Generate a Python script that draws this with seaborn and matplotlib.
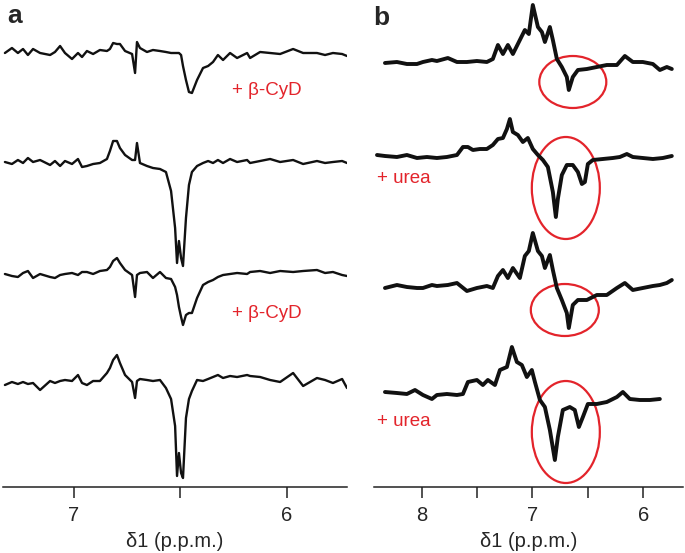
import numpy as np
import pandas as pd
import matplotlib
matplotlib.use("Agg")
import matplotlib.pyplot as plt
from matplotlib.patches import Ellipse
import seaborn as sns

sns.set_theme(style="white")
plt.rcParams["font.family"] = ["Liberation Sans", "DejaVu Sans"]

# --- panel a : chemical shift grid (p.p.m.) shared by the four traces ---
ppm_a = [7.324, 7.291, 7.263, 7.239, 7.216, 7.192, 7.159, 7.112, 7.089, 7.065,
         7.042, 7.009, 6.981, 6.962, 6.939, 6.910, 6.878, 6.845, 6.831, 6.816,
         6.798, 6.784, 6.760, 6.727, 6.713, 6.704, 6.690, 6.657, 6.629, 6.596,
         6.568, 6.544, 6.525, 6.516, 6.507, 6.497, 6.488, 6.474, 6.460, 6.446,
         6.422, 6.394, 6.370, 6.347, 6.324, 6.300, 6.267, 6.234, 6.187, 6.173,
         6.126, 6.079, 6.032, 5.971, 5.924, 5.859, 5.821, 5.784, 5.741, 5.718]

a1_cyd = [-1, 4, -1, 3, -3, 3, -1, -3, 0, 6,
          -1, -7, -1, -5, 1, -2, 2, 1, 3, 9,
          8, 8, 1, -2, -21, 10, 4, 0, 2, 1,
          0, -1, -1, -1, -1, -3, -14, -28, -40, -41,
          -28, -16, -14, -10, -3, -8, -1, -6, -1, -6,
          0, -1, -2, 3, -1, -1, -3, -1, -2, -4]
a2_ref = [1, -1, 3, 0, 5, 1, 3, -2, 2, -3,
          2, -1, 4, -4, -3, -1, 0, 4, 12, 22,
          22, 15, 8, 3, 3, 20, 0, -3, -5, -6,
          -9, -28, -65, -100, -78, -95, -103, -55, -22, -9,
          -3, 0, 2, 0, 3, 0, 4, 1, 3, 0,
          2, 4, 1, 3, -1, 2, 0, 1, 2, 0]
a3_cyd = [1, -1, -2, 2, 4, -3, 1, -2, -3, 0,
          1, 2, 0, 3, 3, 1, 4, 5, 8, 14,
          17, 12, 5, 0, -22, 0, 2, 3, -3, 3,
          -3, -4, -12, -20, -32, -42, -50, -40, -38, -38,
          -23, -10, -7, -5, -2, 0, 1, 2, 1, 3,
          4, 2, 4, 3, 4, 5, 2, 3, 0, -1]
a4_ref = [-2, 1, -1, 1, -1, 0, -7, 2, 0, 2,
          3, 2, 8, 0, -2, 2, 2, 10, 15, 23,
          28, 20, 8, 1, -15, 2, 4, 3, 2, 3,
          -5, -16, -43, -93, -70, -90, -95, -35, -16, -8,
          3, 2, 4, 6, 8, 5, 7, 6, 8, 7,
          6, 3, 1, 10, -3, 5, 3, 0, 4, -5]

# --- panel b ---
ppm_b13 = [8.331, 8.223, 8.133, 8.042, 7.988, 7.907, 7.862, 7.763, 7.681, 7.591,
           7.501, 7.411, 7.357, 7.311, 7.266, 7.221, 7.176, 7.113, 7.068, 7.032,
           6.996, 6.950, 6.914, 6.887, 6.842, 6.815, 6.779, 6.734, 6.689, 6.671,
           6.635, 6.589, 6.508, 6.418, 6.328, 6.237, 6.165, 6.093, 6.003, 5.912,
           5.849, 5.786, 5.741]
b1 = [0, 1, -1, -1, 1, 3, 2, 5, 1, 1,
      2, 1, 4, 18, 9, 18, 9, 23, 33, 29,
      58, 36, 31, 21, 36, 23, 4, -4, -14, -27,
      -14, -7, -6, -4, -2, -2, 7, 1, 1, -1,
      -7, -4, -6]
b3 = [0, 3, 1, 0, 0, 3, 2, 3, 5, -3,
      0, 2, 0, 12, 18, 10, 20, 10, 32, 37,
      55, 37, 32, 20, 33, 18, 0, -12, -25, -40,
      -17, -12, -12, -7, -7, 0, 5, -2, 0, 2,
      3, 5, 8]

ppm_b2 = [8.403, 8.331, 8.223, 8.133, 8.042, 7.952, 7.862, 7.772, 7.681, 7.627,
          7.582, 7.537, 7.474, 7.411, 7.357, 7.311, 7.266, 7.230, 7.203, 7.176,
          7.131, 7.086, 7.041, 6.996, 6.950, 6.905, 6.860, 6.815, 6.788, 6.770,
          6.734, 6.689, 6.635, 6.589, 6.553, 6.526, 6.499, 6.454, 6.364, 6.274,
          6.210, 6.147, 6.093, 6.003, 5.912, 5.822, 5.741]
b2_urea = [2, 1, 0, 2, -1, 0, -1, 0, 2, 10,
           10, 7, 8, 8, 12, 18, 19, 28, 38, 25,
           22, 15, 19, 8, 2, -3, -10, -35, -60, -42,
           -18, -8, -8, -15, -27, -25, -7, -3, -2, -1,
           0, 3, 0, -1, -2, -1, 1]

ppm_b4 = [8.331, 8.223, 8.133, 8.060, 7.988, 7.907, 7.862, 7.772, 7.681, 7.627,
          7.582, 7.501, 7.447, 7.402, 7.338, 7.293, 7.230, 7.185, 7.140, 7.095,
          7.050, 7.005, 6.977, 6.932, 6.887, 6.842, 6.797, 6.770, 6.725, 6.662,
          6.617, 6.580, 6.544, 6.499, 6.418, 6.328, 6.237, 6.183, 6.120, 6.030,
          5.940, 5.849]
b4_urea = [0, -1, -2, 2, -3, -7, -3, -2, -3, -2,
           10, 12, 7, 12, 7, 22, 25, 45, 30, 27,
           15, 22, 10, -8, -15, -38, -68, -45, -18, -15,
           -18, -35, -25, -12, -12, -10, -5, 0, -7, -8,
           -8, -7]

# stacking of the traces (baseline drop from the top, same units)
offsets_a = [52, 163, 275, 383]
offsets_b = [63, 157, 288, 392]

fig = plt.figure(figsize=(6.85, 5.53), dpi=100)
W, H = 685, 553
ax_a = fig.add_axes([3 / W, 66 / H, 344 / W, 487 / H])
ax_b = fig.add_axes([374 / W, 66 / H, 309 / W, 487 / H])

red = "#e3242b"

traces_a = [a1_cyd, a2_ref, a3_cyd, a4_ref]
for vals, off in zip(traces_a, offsets_a):
    y = np.array(vals, dtype=float) - off
    sns.lineplot(x=ppm_a, y=y, ax=ax_a, color="#111111", lw=1.7,
                 estimator=None, sort=False)

traces_b = [(ppm_b13, b1), (ppm_b2, b2_urea), (ppm_b13, b3), (ppm_b4, b4_urea)]
for (xs, vals), off in zip(traces_b, offsets_b):
    y = np.array(vals, dtype=float) - off
    sns.lineplot(x=xs, y=y, ax=ax_b, color="#111111", lw=2.8,
                 estimator=None, sort=False)

# red circles around the upfield signals
for cx, cy, w, h in [(6.635, -82, 0.605, 52), (6.698, -188, 0.614, 102),
                     (6.707, -310, 0.614, 52), (6.698, -432, 0.614, 102)]:
    ax_b.add_patch(Ellipse((cx, cy), w, h, fill=False, ec=red, lw=1.6))

ax_a.text(6.258, -95, "+ β-CyD", color=red, fontsize=13.5, va="baseline")
ax_a.text(6.258, -318, "+ β-CyD", color=red, fontsize=13.5, va="baseline")
ax_b.text(8.403, -183, "+ urea", color=red, fontsize=13.5, va="baseline")
ax_b.text(8.403, -426, "+ urea", color=red, fontsize=13.5, va="baseline")

for ax, lim, ticks, labels in [
        (ax_a, (7.333, 5.718), [7, 6.5, 6], ["7", "", "6"]),
        (ax_b, (8.43, 5.64), [8, 7.5, 7, 6.5, 6], ["8", "", "7", "", "6"])]:
    ax.set_xlim(*lim)
    ax.set_ylim(-487, 0)
    ax.set_yticks([])
    ax.set_ylabel("")
    ax.set_xticks(ticks)
    ax.set_xticklabels(labels)
    for s in ["top", "left", "right"]:
        ax.spines[s].set_visible(False)
    ax.spines["bottom"].set_color("#222222")
    ax.spines["bottom"].set_linewidth(1.1)
    ax.tick_params(axis="x", direction="out", length=8, width=1.1,
                   color="#222222", labelsize=14.5, pad=6, bottom=True)
    ax.set_xlabel("δ1 (p.p.m.)", fontsize=14.5, labelpad=5)
    ax.patch.set_alpha(0)

fig.text(7 / W, 1 - 23 / H, "a", fontsize=19, fontweight="bold")
fig.text(373 / W, 1 - 25 / H, "b", fontsize=19, fontweight="bold")

fig.savefig("out.png", dpi=100)
